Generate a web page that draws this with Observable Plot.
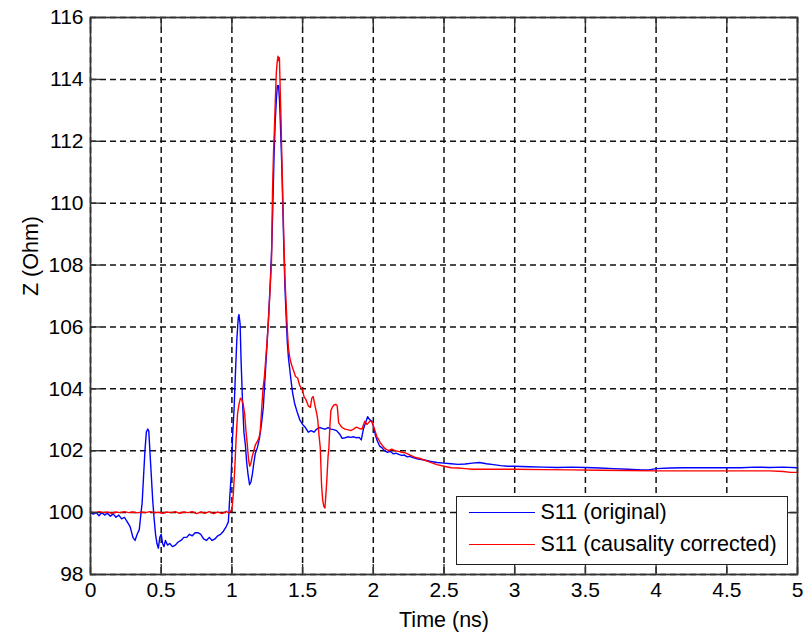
<!DOCTYPE html>
<html><head><meta charset="utf-8">
<script src="https://cdn.jsdelivr.net/npm/d3@7"></script>
<script src="https://cdn.jsdelivr.net/npm/@observablehq/plot@0.6"></script>
<style>
body{margin:0;background:#fff;}
#wrap{position:relative;width:806px;height:641px;font-family:"Liberation Sans",Arial,sans-serif;}
#legend{position:absolute;left:456px;top:496px;width:332px;height:69px;box-sizing:border-box;border:1.5px solid #222;background:#fff;}
.item{position:absolute;left:0;height:24px;display:flex;align-items:center;font-size:21.5px;color:#000;white-space:nowrap;}
.sw{width:66px;height:0;border-top:1.5px solid;margin-left:11.5px;margin-right:6px;}
</style></head>
<body><div id="wrap"></div>
<script>
const seriesNames = ["S11 (original)", "S11 (causality corrected)"];
const seriesColors = ["#0000ff", "#ff0000"];
const xTicks = [0, 0.5, 1, 1.5, 2, 2.5, 3, 3.5, 4, 4.5, 5];
const yTicks = [98, 100, 102, 104, 106, 108, 110, 112, 114, 116];
const xLabel = "Time (ns)";
const yLabel = "Z (Ohm)";

const blueT = [0.00,0.02,0.04,0.06,0.08,0.10,0.12,0.14,0.16,0.18,0.20,0.22,0.24,0.26,0.28,0.30,0.315,0.33,0.345,0.355,0.365,0.375,0.385,0.395,0.405,0.412,0.42,0.43,0.44,0.45,0.46,0.47,0.48,0.49,0.50,0.51,0.52,0.53,0.545,0.56,0.58,0.60,0.62,0.64,0.66,0.68,0.70,0.72,0.74,0.76,0.78,0.80,0.82,0.84,0.86,0.88,0.90,0.92,0.94,0.96,0.975,0.985,0.995,1.005,1.015,1.025,1.035,1.045,1.05,1.058,1.065,1.075,1.085,1.095,1.105,1.115,1.125,1.135,1.145,1.155,1.165,1.18,1.195,1.21,1.222,1.235,1.248,1.26,1.272,1.282,1.29,1.298,1.306,1.315,1.322,1.33,1.337,1.345,1.353,1.36,1.367,1.375,1.383,1.392,1.40,1.41,1.42,1.43,1.445,1.465,1.48,1.50,1.52,1.54,1.56,1.58,1.60,1.62,1.64,1.66,1.68,1.70,1.72,1.74,1.76,1.78,1.80,1.82,1.84,1.86,1.88,1.90,1.915,1.93,1.945,1.96,1.975,1.99,2.00,2.015,2.03,2.045,2.06,2.08,2.10,2.12,2.14,2.16,2.18,2.20,2.22,2.24,2.26,2.28,2.30,2.33,2.36,2.40,2.45,2.50,2.55,2.60,2.65,2.70,2.75,2.80,2.85,2.90,2.95,3.00,3.1,3.2,3.3,3.4,3.5,3.6,3.7,3.8,3.9,3.95,4.0,4.1,4.2,4.3,4.4,4.5,4.6,4.7,4.8,4.9,5.0];
const blueZ = [100.0,99.95,100.0,99.9,100.0,99.92,99.98,99.88,99.96,99.85,99.92,99.8,99.85,99.7,99.55,99.2,99.1,99.3,99.45,99.9,100.3,101.15,102.0,102.6,102.7,102.65,102.0,101.2,100.4,99.8,99.3,99.0,98.85,99.2,99.3,99.0,98.9,99.1,98.95,99.0,98.9,98.95,99.05,99.1,99.2,99.2,99.3,99.25,99.35,99.35,99.3,99.15,99.1,99.2,99.1,99.15,99.25,99.3,99.4,99.55,99.7,100.5,101.2,102.5,103.3,104.5,105.6,106.3,106.4,106.1,104.9,103.6,102.6,102.2,101.6,101.2,100.9,101.0,101.25,101.6,101.9,102.1,102.4,102.9,103.4,104.4,105.4,106.4,107.5,108.6,110.0,111.5,112.6,113.4,113.8,113.8,113.3,112.3,111.2,109.9,108.6,107.3,106.4,105.5,105.0,104.6,104.2,103.85,103.5,103.2,103.0,102.85,102.75,102.6,102.65,102.6,102.7,102.75,102.72,102.7,102.75,102.7,102.68,102.65,102.55,102.4,102.42,102.45,102.43,102.45,102.42,102.43,102.35,102.7,102.9,103.1,103.0,102.95,102.8,102.5,102.3,102.15,102.1,102.0,101.95,101.98,101.9,101.92,101.88,101.85,101.86,101.8,101.82,101.78,101.75,101.72,101.7,101.66,101.62,101.6,101.58,101.56,101.57,101.6,101.62,101.58,101.55,101.52,101.5,101.5,101.48,101.47,101.46,101.47,101.46,101.44,101.42,101.4,101.38,101.38,101.42,101.44,101.45,101.45,101.45,101.45,101.45,101.47,101.46,101.47,101.45];

const redT = [0.00,0.03,0.06,0.09,0.12,0.15,0.18,0.21,0.24,0.27,0.30,0.33,0.36,0.39,0.42,0.45,0.48,0.51,0.54,0.57,0.60,0.63,0.66,0.69,0.72,0.75,0.78,0.81,0.84,0.87,0.90,0.93,0.96,0.98,0.99,1.00,1.01,1.02,1.03,1.04,1.05,1.06,1.07,1.08,1.09,1.10,1.107,1.118,1.126,1.135,1.143,1.155,1.167,1.18,1.19,1.20,1.21,1.22,1.23,1.24,1.25,1.26,1.27,1.28,1.287,1.294,1.30,1.307,1.314,1.32,1.326,1.332,1.336,1.342,1.348,1.353,1.36,1.367,1.375,1.384,1.392,1.40,1.41,1.42,1.435,1.45,1.465,1.48,1.50,1.51,1.524,1.54,1.555,1.565,1.575,1.588,1.60,1.607,1.616,1.625,1.634,1.642,1.65,1.658,1.665,1.672,1.68,1.686,1.693,1.70,1.71,1.72,1.735,1.745,1.755,1.77,1.78,1.80,1.82,1.84,1.86,1.88,1.90,1.92,1.94,1.955,1.965,1.975,1.99,2.00,2.012,2.025,2.036,2.05,2.06,2.075,2.09,2.11,2.13,2.155,2.18,2.2,2.226,2.25,2.28,2.30,2.33,2.36,2.40,2.45,2.50,2.55,2.60,2.65,2.70,2.8,2.9,3.0,3.2,3.4,3.6,3.8,4.0,4.2,4.4,4.6,4.8,4.9,4.95,5.0];
const redZ = [100.02,100.0,100.03,100.0,100.02,99.98,100.02,100.0,100.03,100.0,100.02,99.99,100.02,100.0,100.03,100.0,100.01,99.98,100.02,100.0,100.03,99.98,100.02,100.0,100.03,99.97,100.02,99.98,100.03,99.97,100.02,99.97,100.04,99.98,100.05,100.1,100.6,101.4,102.4,103.2,103.5,103.7,103.65,103.5,103.2,102.6,102.3,101.7,101.5,101.6,101.8,102.0,102.2,102.3,102.4,102.6,103.3,104.0,104.4,105.0,105.6,106.3,107.2,108.1,110.3,111.6,112.3,113.3,114.2,114.55,114.75,114.6,114.7,113.6,112.6,111.5,110.2,108.9,107.6,106.7,105.9,105.3,105.0,104.8,104.6,104.4,104.35,104.1,103.95,103.75,103.65,103.45,103.4,103.7,103.75,103.45,103.2,103.0,102.5,102.1,100.9,100.4,100.2,100.15,100.6,101.1,101.8,102.1,102.8,103.3,103.4,103.47,103.5,103.45,102.9,102.8,102.75,102.7,102.68,102.65,102.7,102.76,102.72,102.7,102.95,102.85,102.9,102.95,102.95,102.8,102.65,102.45,102.38,102.25,102.2,102.1,102.05,102.0,102.05,102.0,101.98,101.95,101.93,101.88,101.82,101.78,101.75,101.7,101.63,101.55,101.5,101.45,101.44,101.42,101.4,101.4,101.4,101.4,101.39,101.38,101.37,101.36,101.35,101.35,101.35,101.35,101.35,101.33,101.3,101.3];

const blue = blueT.map((t, i) => ({t, z: blueZ[i]}));
const red = redT.map((t, i) => ({t, z: redZ[i]}));

const font = '"Liberation Sans", Arial, sans-serif';
const gridStyle = {stroke: "#111", strokeOpacity: 1, strokeWidth: 1.5, strokeDasharray: "6,4"};
const tickStyle = {tickSize: -10, tickFormat: () => "", label: null, stroke: "#333", strokeWidth: 1.4};

const chart = Plot.plot({
  width: 806, height: 641,
  marginLeft: 90, marginRight: 9, marginTop: 17, marginBottom: 67,
  style: {fontFamily: font, fontSize: "21px", color: "#000", background: "#fff", overflow: "visible"},
  x: {domain: [0, 5]},
  y: {domain: [98, 116]},
  marks: [
    Plot.gridX(xTicks, gridStyle),
    Plot.gridY(yTicks, gridStyle),
    Plot.lineY(blue, {x: "t", y: "z", stroke: seriesColors[0], strokeWidth: 1.4}),
    Plot.lineY(red, {x: "t", y: "z", stroke: seriesColors[1], strokeWidth: 1.4}),
    Plot.frame({stroke: "#333", strokeWidth: 1.7}),
    Plot.axisX(xTicks, {anchor: "bottom", ...tickStyle}),
    Plot.axisX(xTicks, {anchor: "top", ...tickStyle}),
    Plot.axisY(yTicks, {anchor: "left", ...tickStyle}),
    Plot.axisY(yTicks, {anchor: "right", ...tickStyle}),
    Plot.axisX(xTicks, {anchor: "bottom", tickSize: 0, tickPadding: 8, tickFormat: d => String(d), label: null, fontSize: 21, fill: "#000"}),
    Plot.axisY(yTicks, {anchor: "left", tickSize: 0, tickPadding: 7, tickFormat: d => String(d), label: null, fontSize: 21, fill: "#000"}),
    Plot.text([xLabel], {text: d => d, frameAnchor: "bottom", dy: 37, lineAnchor: "top", fontSize: 21.5, fill: "#000"}),
    Plot.text([yLabel], {text: d => d, frameAnchor: "left", dx: -59, rotate: -90, fontSize: 21.5, fill: "#000"})
  ]
});

const wrap = document.getElementById("wrap");
wrap.appendChild(chart);
const legend = document.createElement("div");
legend.id = "legend";
seriesNames.forEach((name, i) => {
  const item = document.createElement("div");
  item.className = "item";
  item.style.top = (3.5 + i * 32) + "px";
  const sw = document.createElement("span");
  sw.className = "sw";
  sw.style.borderTopColor = seriesColors[i];
  const label = document.createElement("span");
  label.textContent = name;
  item.appendChild(sw);
  item.appendChild(label);
  legend.appendChild(item);
});
wrap.appendChild(legend);
</script>
</body></html>
